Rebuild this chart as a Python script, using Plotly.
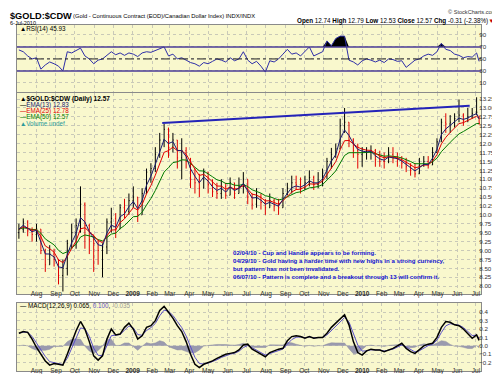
import plotly.graph_objects as go
import pandas as pd
import numpy as np

# ---------------- data (weekly readings, last point = 6-Jul-2010) ----------------
dates = list(pd.date_range('2008-07-04', periods=105, freq='7D').strftime('%Y-%m-%d')) + ['2010-07-06']

open_ = [9.50, 9.60, 9.80, 9.55, 9.45, 9.60, 9.00, 8.60, 8.90, 8.75,
         8.30, 8.50, 9.20, 9.50, 9.70, 10.30, 9.70, 9.30, 9.20, 9.00,
         9.10, 9.80, 9.90, 9.60, 10.20, 10.10, 10.40, 10.50, 10.00, 10.60,
         11.20, 11.30, 11.70, 12.10, 12.40, 11.90, 12.10, 11.60, 11.80, 11.50,
         11.00, 10.90, 10.75, 11.20, 10.85, 10.65, 10.60, 10.80, 10.55, 10.90,
         10.60, 10.80, 11.00, 10.50, 10.30, 10.50, 10.35, 10.20, 10.40, 10.25,
         10.20, 10.60, 10.75, 10.90, 10.85, 10.75, 10.90, 11.05, 10.85, 10.90,
         11.10, 11.50, 11.70, 11.85, 12.50, 12.60, 12.10, 11.80, 11.70, 11.75,
         11.75, 11.80, 11.55, 11.50, 11.50, 11.70, 11.60, 11.55, 11.45, 11.35,
         11.25, 11.15, 11.40, 11.50, 11.40, 11.75, 12.05, 12.60, 12.55, 12.60,
         12.70, 12.80, 12.65, 12.75, 12.85, 12.74]
high = [9.75, 9.90, 9.85, 9.65, 9.75, 9.60, 9.05, 9.15, 9.05, 8.75,
        8.75, 9.30, 9.75, 9.90, 10.80, 10.35, 9.75, 9.45, 9.30, 9.20,
        9.90, 10.20, 10.05, 10.30, 10.45, 10.60, 10.80, 10.50, 10.75, 11.30,
        11.45, 11.90, 12.30, 12.55, 12.45, 12.30, 12.10, 12.15, 11.90, 11.60,
        11.30, 11.15, 11.30, 11.20, 11.00, 10.90, 11.00, 10.90, 11.05, 10.90,
        11.05, 11.20, 11.00, 10.60, 10.75, 10.60, 10.45, 10.60, 10.45, 10.45,
        10.75, 10.90, 11.10, 11.10, 11.05, 11.10, 11.25, 11.10, 11.20, 11.30,
        11.60, 11.88, 12.00, 12.70, 13.00, 12.60, 12.15, 12.00, 11.90, 11.90,
        11.95, 11.85, 11.80, 11.75, 11.90, 11.90, 11.75, 11.65, 11.60, 11.45,
        11.45, 11.60, 11.65, 11.65, 11.90, 12.15, 12.70, 12.85, 12.80, 12.85,
        13.24, 12.85, 13.00, 13.00, 13.30, 12.79]
low = [9.33, 9.50, 9.40, 9.25, 9.25, 8.90, 8.40, 8.60, 8.55, 8.05,
       7.85, 8.30, 9.05, 9.05, 9.50, 9.05, 8.90, 8.40, 8.60, 8.25,
       8.90, 9.50, 9.35, 9.60, 9.90, 10.00, 10.20, 9.80, 10.00, 10.60,
       10.90, 11.20, 11.60, 11.90, 11.60, 11.75, 11.30, 11.00, 11.30, 10.75,
       10.60, 10.50, 10.75, 10.60, 10.50, 10.45, 10.45, 10.45, 10.55, 10.45,
       10.60, 10.60, 10.30, 10.15, 10.20, 10.15, 10.00, 10.20, 10.10, 10.00,
       10.20, 10.55, 10.60, 10.70, 10.60, 10.70, 10.80, 10.70, 10.75, 10.80,
       11.00, 11.30, 11.60, 11.85, 12.30, 11.90, 11.60, 11.30, 11.35, 11.55,
       11.55, 11.35, 11.35, 11.30, 11.45, 11.45, 11.35, 11.30, 11.20, 11.10,
       11.05, 11.15, 11.35, 11.30, 11.40, 11.75, 12.05, 12.30, 12.30, 12.45,
       12.60, 12.50, 12.60, 12.70, 12.80, 12.53]
close = [9.60, 9.80, 9.55, 9.45, 9.60, 9.00, 8.60, 8.90, 8.75, 8.30,
         8.50, 9.20, 9.50, 9.70, 10.30, 9.70, 9.30, 9.20, 9.00, 9.10,
         9.80, 9.90, 9.60, 10.20, 10.10, 10.40, 10.50, 10.00, 10.60, 11.20,
         11.30, 11.70, 12.10, 12.40, 11.90, 12.10, 11.60, 11.80, 11.50, 11.00,
         10.90, 10.75, 11.20, 10.85, 10.65, 10.60, 10.80, 10.55, 10.90, 10.60,
         10.80, 11.00, 10.50, 10.30, 10.50, 10.35, 10.20, 10.40, 10.25, 10.20,
         10.60, 10.75, 10.90, 10.85, 10.75, 10.90, 11.05, 10.85, 10.90, 11.10,
         11.50, 11.70, 11.85, 12.50, 12.60, 12.10, 11.80, 11.70, 11.75, 11.75,
         11.80, 11.55, 11.50, 11.50, 11.70, 11.60, 11.55, 11.45, 11.35, 11.25,
         11.15, 11.40, 11.50, 11.40, 11.75, 12.05, 12.60, 12.55, 12.60, 12.70,
         12.80, 12.65, 12.75, 12.85, 12.88, 12.57]

rsi = [65, 62, 55, 50, 52, 33, 40, 45, 42, 38,
       30, 62, 60, 64, 68, 55, 50, 42, 48, 50,
       56, 62, 57, 60, 56, 60, 58, 54, 60, 62,
       61, 64, 68, 70, 55, 58, 50, 52, 48, 44,
       42, 38, 44, 42, 46, 50, 48, 45, 52, 47,
       50, 62, 48, 42, 46, 38, 28, 47, 45, 50,
       58, 66, 58, 60, 55, 62, 70, 55, 58, 62,
       80, 72, 84, 88, 88, 48, 45, 40, 47, 50,
       48, 45, 48, 44, 50, 49, 46, 47, 36, 42,
       48, 50, 55, 58, 56, 62, 76, 66, 64, 58,
       56, 52, 54, 53, 60, 45.93]

macd = [0.15, 0.17, 0.16, 0.08, -0.02, -0.10, -0.18, -0.23, -0.21, -0.22,
        -0.23, -0.10, 0.05, 0.18, 0.29, 0.20, 0.05, -0.12, -0.17, -0.12,
        0.08, 0.20, 0.13, 0.14, 0.22, 0.27, 0.20, 0.08, 0.12, 0.22,
        0.24, 0.30, 0.42, 0.47, 0.40, 0.33, 0.24, 0.17, 0.05, -0.10,
        -0.22, -0.26, -0.22, -0.20, -0.18, -0.15, -0.12, -0.10, -0.09, -0.08,
        -0.05, 0.01, 0.02, -0.04, -0.07, -0.10, -0.13, -0.08, -0.06, -0.04,
        -0.03, 0.06, 0.11, 0.12, 0.11, 0.09, 0.11, 0.09, 0.10, 0.10,
        0.15, 0.22, 0.27, 0.32, 0.37, 0.25, 0.05, -0.08, -0.11, -0.06,
        -0.04, -0.05, -0.05, -0.07, -0.05, -0.03, 0.00, 0.03, -0.03, -0.07,
        -0.09, -0.05, 0.00, 0.02, 0.03, 0.10, 0.22, 0.29, 0.28, 0.25,
        0.24, 0.20, 0.14, 0.09, 0.13, 0.065]

trend_dates = ['2009-02-17', '2010-06-21']
trend_vals = [12.58, 13.06]

month_ticks = ['2008-08-01', '2008-09-01', '2008-10-01', '2008-11-01', '2008-12-01',
               '2009-01-01', '2009-02-01', '2009-03-01', '2009-04-01', '2009-05-01',
               '2009-06-01', '2009-07-01', '2009-08-01', '2009-09-01', '2009-10-01',
               '2009-11-01', '2009-12-01', '2010-01-01', '2010-02-01', '2010-03-01',
               '2010-04-01', '2010-05-01', '2010-06-01', '2010-07-01']
month_labels = ['Aug', 'Sep', 'Oct', 'Nov', 'Dec', '2009', 'Feb', 'Mar', 'Apr', 'May', 'Jun', 'Jul',
                'Aug', 'Sep', 'Oct', 'Nov', 'Dec', '2010', 'Feb', 'Mar', 'Apr', 'May', 'Jun', 'Jul']

comments = ['02/04/10 - Cup and Handle appears to be forming.',
            '04/29/10 - Gold having a harder time with new highs in a strong currency,',
            'but pattern has not been invalidated.',
            '06/07/10 - Pattern is complete and a breakout through 13 will confirm it.']

# ---------------- derived indicators ----------------
cs = pd.Series(close)
ema13 = cs.ewm(alpha=0.54, adjust=False).mean()
ema25 = cs.ewm(alpha=0.33, adjust=False).mean()
ema50 = cs.ewm(alpha=0.18, adjust=False).mean()
ms = pd.Series(macd)
signal = ms.ewm(alpha=0.6, adjust=False).mean()
hist = ms - signal
rsi_arr = np.array(rsi, dtype=float)

# ---------------- layout helpers ----------------
W, H = 500, 374
def px(x): return x / W
def py(y): return 1 - y / H

FONT = 'Liberation Sans, Arial, sans-serif'
BG = '#f9f8cd'
GRID = '#c9c9b8'
XR = ['2008-07-01', '2010-07-09']
xdom = [px(9), px(473)]

ticktext = [('<b>%s</b>' % t) if t.isdigit() else t for t in month_labels]

fig = go.Figure()

# RSI panel
fig.add_trace(go.Scatter(x=dates, y=np.full(len(dates), 70.0), mode='lines', line=dict(width=0, color='black'),
                         xaxis='x', yaxis='y', hoverinfo='skip', showlegend=False))
fig.add_trace(go.Scatter(x=dates, y=np.maximum(rsi_arr, 70), mode='lines', line=dict(width=0, color='black'),
                         fill='tonexty', fillcolor='black', xaxis='x', yaxis='y', hoverinfo='skip', showlegend=False))
fig.add_trace(go.Scatter(x=dates, y=rsi, mode='lines', line=dict(color='#2e2ea8', width=1),
                         xaxis='x', yaxis='y', showlegend=False))

# Price panel
fig.add_trace(go.Ohlc(x=dates, open=open_, high=high, low=low, close=close,
                      increasing=dict(line=dict(color='black', width=1)),
                      decreasing=dict(line=dict(color='#e00000', width=1)),
                      tickwidth=0.3, xaxis='x2', yaxis='y2', showlegend=False))
fig.add_trace(go.Scatter(x=dates, y=ema50, mode='lines', line=dict(color='#007a00', width=1),
                         xaxis='x2', yaxis='y2', showlegend=False))
fig.add_trace(go.Scatter(x=dates, y=ema25, mode='lines', line=dict(color='#e00000', width=1),
                         xaxis='x2', yaxis='y2', showlegend=False))
fig.add_trace(go.Scatter(x=dates, y=ema13, mode='lines', line=dict(color='#1a1a70', width=1),
                         xaxis='x2', yaxis='y2', showlegend=False))
fig.add_trace(go.Scatter(x=trend_dates, y=trend_vals, mode='lines', line=dict(color='#2424b8', width=2),
                         xaxis='x2', yaxis='y2', showlegend=False))

# MACD panel
fig.add_trace(go.Scatter(x=dates, y=hist, mode='lines', line=dict(color='#8c8ca0', width=0.5),
                         fill='tozeroy', fillcolor='#9a9aae', xaxis='x3', yaxis='y3', showlegend=False))
fig.add_trace(go.Scatter(x=dates, y=signal, mode='lines', line=dict(color='#5a4fc8', width=1),
                         xaxis='x3', yaxis='y3', showlegend=False))
fig.add_trace(go.Scatter(x=dates, y=macd, mode='lines', line=dict(color='black', width=1.5),
                         xaxis='x3', yaxis='y3', showlegend=False))

def xaxis(anchor, labels):
    return dict(type='date', range=XR, domain=xdom, anchor=anchor,
                tickvals=month_ticks, ticktext=ticktext, showticklabels=labels,
                tickfont=dict(size=6.5, color='#333', family=FONT), ticks='',
                ticklabelstandoff=-7,
                showgrid=True, gridcolor=GRID, griddash='dot', gridwidth=1,
                showline=True, mirror=True, linecolor='#8a8a8a', linewidth=1,
                rangeslider=dict(visible=False), zeroline=False, fixedrange=True)

def yaxis(anchor, dom, rng, tv, fmt):
    return dict(domain=dom, range=rng, anchor=anchor, side='right', tickvals=tv,
                tickformat=fmt, ticks='', tickfont=dict(size=6.2, color='#333', family=FONT),
                ticklabelstandoff=-4,
                showgrid=True, gridcolor=GRID, griddash='dot', gridwidth=1,
                showline=True, mirror=True, linecolor='#8a8a8a', linewidth=1, zeroline=False)

price_ticks = [8 + 0.25 * k for k in range(22)]

fig.update_layout(
    width=W, height=H, margin=dict(l=0, r=0, t=0, b=0),
    paper_bgcolor='white', plot_bgcolor=BG, showlegend=False,
    font=dict(family=FONT, size=7, color='black'),
    xaxis=xaxis('y', False), yaxis=yaxis('x', [py(84), py(17)], [-5, 106.5], [10, 30, 50, 70, 90], 'd'),
    xaxis2=xaxis('y2', True), yaxis2=yaxis('x2', [py(286), py(85)], [7.78, 13.42], price_ticks, '.2f'),
    xaxis3=xaxis('y3', True), yaxis3=yaxis('x3', [py(363), py(295)], [-0.30, 0.51],
                                           [-0.2, -0.1, 0, 0.1, 0.2, 0.3, 0.4], '.1f'),
)

shapes = [
    dict(type='line', xref='x domain', yref='y', x0=0, x1=1, y0=70, y1=70, line=dict(color='#4a3d96', width=1.6)),
    dict(type='line', xref='x domain', yref='y', x0=0, x1=1, y0=30, y1=30, line=dict(color='#4a3d96', width=1.6)),
    dict(type='line', xref='x domain', yref='y', x0=0, x1=1, y0=50, y1=50, line=dict(color='#222', width=1, dash='dashdot')),
]
fig.update_layout(shapes=shapes)

ann = []
def t(x, y, text, size=6.5, color='black', xanchor='left'):
    ann.append(dict(x=px(x), y=py(y), xref='paper', yref='paper', text=text, showarrow=False,
                    xanchor=xanchor, yanchor='middle', borderpad=0,
                    font=dict(size=size, color=color, family=FONT)))

t(1, 8, '<b>$GOLD:$CDW</b>', size=9.2)
t(64, 8.5, '(Gold - Continuous Contract (EOD)/Canadian Dollar Index) INDX/INDX', size=5.8)
t(1, 14.5, '6-Jul-2010', size=5.5)
t(490, 4, '© StockCharts.com', size=5.6, color='#333', xanchor='right')
t(487, 13, '<b>Open</b> 12.74 <b>High</b> 12.79 <b>Low</b> 12.53 <b>Close</b> 12.57 <b>Chg</b> -0.31 (-2.38%)'
           '<span style="color:#c00000">▼</span>', size=6.3, xanchor='right')
t(11, 21, '▲RSI(14) 45.93', size=6.3)
t(11, 91, '<b>▲$GOLD:$CDW (Daily) 12.57</b>', size=6.5)
t(11, 97, '<span style="color:black">—</span>EMA(13) 12.83', size=6.3, color='#1a1a70')
t(11, 103, '—EMA(25) 12.78', size=6.3, color='#e00000')
t(11, 109, '—EMA(50) 12.57', size=6.3, color='#007a00')
t(11, 115, '▲Volume undef', size=6.3, color='#2a9a9a')
t(11, 298, '— MACD(12,26,9) 0.065, <span style="color:#5a4fc8">0.100</span>, '
           '<span style="color:#999">-0.035</span>', size=6.3)
for k, line in enumerate(comments):
    t(224, 244 + 8 * k, '<b>%s</b>' % line, size=6.1, color='#1010d0')

fig.update_layout(annotations=ann)
fig.write_html('out.html')
